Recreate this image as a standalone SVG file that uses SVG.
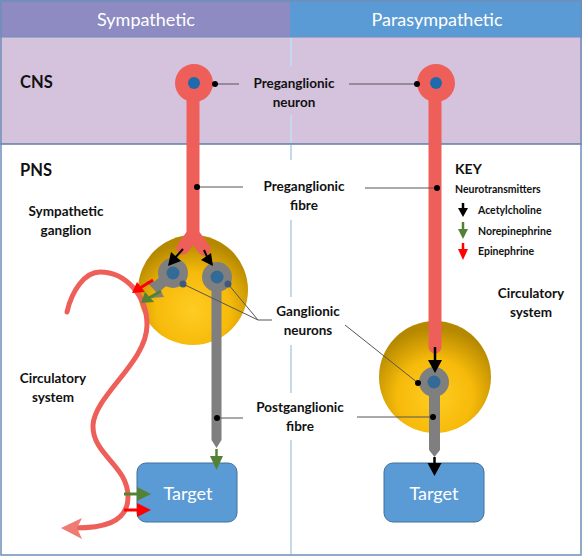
<svg xmlns="http://www.w3.org/2000/svg" width="583" height="557" viewBox="0 0 583 557">
<style>
.lbl{font-family:Lato,"Liberation Sans",sans-serif;font-weight:bold;fill:#111;text-anchor:middle}
.s13{font-size:13.5px}
.hdr{font-family:Lato,"Liberation Sans",sans-serif;font-size:18px;fill:#fff;text-anchor:middle}
.big{font-family:Lato,"Liberation Sans",sans-serif;font-weight:bold;font-size:16.5px;fill:#111}
.key{font-family:Lato,"Liberation Sans",sans-serif;font-weight:bold;font-size:10.5px;fill:#111}
.tgt{font-family:Lato,"Liberation Sans",sans-serif;font-size:18px;fill:#fff;text-anchor:middle}
.lead{stroke:#555;stroke-width:1;fill:none}
.div{stroke:#C5D8EC;stroke-width:2}
.box{fill:#5B9BD5;stroke:#41719C;stroke-width:1}
.red{stroke:#EF5F5A;fill:none;stroke-linecap:round;stroke-linejoin:round}
.gray{stroke:#7F7F80;fill:none}
</style>
<defs>
<radialGradient id="gang" cx="0.5" cy="0.68" r="0.62">
<stop offset="0" stop-color="#FFCC22"/>
<stop offset="0.55" stop-color="#F6BA0A"/>
<stop offset="1" stop-color="#B58800"/>
</radialGradient>
</defs>

<g id="frame">
<rect x="0" y="0" width="290" height="37" fill="#8E8BC3"/>
<rect x="290" y="0" width="292" height="37" fill="#5B9BD5"/>
<rect x="0" y="37" width="582" height="107" fill="#D5C2DD"/>
<rect x="0" y="144" width="582" height="411" fill="#fff"/>
<line x1="0" y1="37" x2="582" y2="37" stroke="#6E8FB8" stroke-width="1.2"/>
<line x1="0" y1="144" x2="582" y2="144" stroke="#5E7FA8" stroke-width="1.5"/>
<rect x="1" y="1" width="580" height="554" fill="none" stroke="#6E8FB8" stroke-width="1.5"/>
<line class="div" x1="291" y1="38" x2="291" y2="66"/>
<line class="div" x1="291" y1="115" x2="291" y2="143"/>
<line class="div" x1="291" y1="145" x2="291" y2="160"/>
<line class="div" x1="291" y1="220" x2="291" y2="297"/>
<line class="div" x1="291" y1="345" x2="291" y2="393"/>
<line class="div" x1="291" y1="440" x2="291" y2="554"/>
<text class="hdr" x="146" y="26">Sympathetic</text>
<text class="hdr" x="437" y="26">Parasympathetic</text>
<text class="big" x="20" y="88">CNS</text>
<text class="big" x="20" y="176">PNS</text>
</g>

<g id="ganglion-symp"><circle cx="193" cy="290" r="55" fill="url(#gang)"/></g>
<g id="ganglion-para"><circle cx="435" cy="377" r="56" fill="url(#gang)"/></g>

<g id="circulatory">
<path class="red" d="M67,312 C72,290 85,272 100,272 C125,272 147,295 147,325 C147,362 95,395 93,425 C92,455 128,465 128,497 C128,524 100,528 74,528" stroke="#F07B72" stroke-width="5"/>
<polygon points="61,528 82,518 77,528 82,539" fill="#F07B72"/>
</g>

<g id="pre-symp">
<path class="red" d="M193,90 V234 M193,234 L183,248 M193,234 L204,249" stroke-width="13"/>
<circle cx="194" cy="83" r="19" fill="#EF5F5A"/>
<circle cx="194" cy="83" r="6" fill="#1F6AAD"/>
</g>

<g id="pre-para">
<path class="red" d="M435,90 V347" stroke-width="13"/>
<circle cx="436" cy="83" r="19" fill="#EF5F5A"/>
<circle cx="436" cy="83" r="6" fill="#1F6AAD"/>
</g>

<g id="gang-symp-left">
<line class="gray" x1="172" y1="274" x2="154" y2="289" stroke-width="11"/>
<polygon points="146,281 158,282 156,292" fill="#7F7F80"/>
<polygon points="150,298 160,290 164,297" fill="#7F7F80"/>
<circle cx="173" cy="273" r="15" fill="#7F7F80"/>
<circle cx="173" cy="273" r="6.5" fill="#336A96"/>
<circle cx="183" cy="284" r="3.5" fill="#3B5B82"/>
</g>

<g id="gang-symp-right">
<path d="M211.5,277 V440 L216.5,448 L221.5,440 V277 Z" fill="#7F7F80"/>
<circle cx="217" cy="277" r="15" fill="#7F7F80"/>
<circle cx="217" cy="277" r="6.5" fill="#336A96"/>
<circle cx="228" cy="284" r="3.5" fill="#3B5B82"/>
</g>

<g id="gang-para">
<path d="M429,382 V450 L434.5,457 L440,450 V382 Z" fill="#7F7F80"/>
<circle cx="434" cy="382" r="15" fill="#7F7F80"/>
<circle cx="434" cy="382" r="6.5" fill="#336A96"/>
</g>

<g id="target-symp">
<rect class="box" x="137" y="463" width="100" height="59" rx="9"/>
<text class="tgt" x="188" y="500">Target</text>
</g>
<g id="target-para">
<rect class="box" x="384" y="463" width="100" height="59" rx="9"/>
<text class="tgt" x="434" y="500">Target</text>
</g>

<g id="connectors">
<line x1="183" y1="249" x2="174" y2="259" stroke="#000" stroke-width="2"/>
<polygon points="168,266 171,252 181,261" fill="#000"/>
<line x1="204" y1="250" x2="208" y2="259" stroke="#000" stroke-width="2"/>
<polygon points="213,266 201,260 211,253" fill="#000"/>
<line x1="153" y1="280" x2="140" y2="288" stroke="#FF0000" stroke-width="3"/>
<polygon points="132,293 137,282 145,292" fill="#FF0000"/>
<line x1="161" y1="291" x2="149" y2="298" stroke="#548235" stroke-width="3"/>
<polygon points="141,303 145,292 154,302" fill="#548235"/>
<line x1="216.5" y1="449" x2="216.5" y2="458" stroke="#548235" stroke-width="2.5"/>
<polygon points="210,456 223,456 216.5,470" fill="#548235"/>
<line x1="435" y1="347" x2="435" y2="362" stroke="#000" stroke-width="2.5"/>
<polygon points="428,360 442,360 435,373" fill="#000"/>
<line x1="434.5" y1="457" x2="434.5" y2="465" stroke="#000" stroke-width="2.5"/>
<polygon points="427.5,463 441.5,463 434.5,476" fill="#000"/>
<line x1="124" y1="494" x2="139" y2="494" stroke="#548235" stroke-width="3"/>
<polygon points="137,487 151,494 137,501" fill="#548235"/>
<line x1="124" y1="510" x2="139" y2="510" stroke="#FF0000" stroke-width="3"/>
<polygon points="137,503 151,510 137,517" fill="#FF0000"/>
<line class="lead" x1="215" y1="84" x2="239" y2="84"/>
<line class="lead" x1="349" y1="84" x2="417" y2="84"/>
<circle cx="215" cy="84" r="3" fill="#000"/>
<circle cx="417" cy="84" r="3" fill="#000"/>
<line class="lead" x1="197" y1="187" x2="243" y2="187"/>
<line class="lead" x1="365" y1="188" x2="437" y2="188"/>
<circle cx="197" cy="187" r="3" fill="#000"/>
<circle cx="437" cy="188" r="3" fill="#000"/>
<polyline class="lead" points="183,284 258,320 272,320"/>
<line class="lead" x1="228" y1="284" x2="258" y2="320"/>
<line class="lead" x1="345" y1="325" x2="418" y2="383"/>
<circle cx="418" cy="383" r="3" fill="#000"/>
<line class="lead" x1="217" y1="418" x2="243" y2="418"/>
<line class="lead" x1="357" y1="417" x2="433" y2="417"/>
<circle cx="217" cy="418" r="3" fill="#000"/>
<circle cx="433" cy="417" r="3" fill="#000"/>
</g>

<g id="labels">
<text class="lbl s13" x="294" y="88">Preganglionic</text>
<text class="lbl s13" x="294" y="107">neuron</text>
<text class="lbl s13" x="304" y="191">Preganglionic</text>
<text class="lbl s13" x="304" y="210">fibre</text>
<text class="lbl s13" x="66" y="216">Sympathetic</text>
<text class="lbl s13" x="66" y="235">ganglion</text>
<text class="lbl s13" x="308" y="316">Ganglionic</text>
<text class="lbl s13" x="308" y="335">neurons</text>
<text class="lbl s13" x="53" y="383">Circulatory</text>
<text class="lbl s13" x="53" y="402">system</text>
<text class="lbl s13" x="300" y="412">Postganglionic</text>
<text class="lbl s13" x="300" y="431">fibre</text>
<text class="lbl s13" x="531" y="298">Circulatory</text>
<text class="lbl s13" x="531" y="317">system</text>
</g>

<g id="key">
<text class="key" x="455" y="174" style="font-size:14px">KEY</text>
<text class="key" x="455" y="193">Neurotransmitters</text>
<line x1="463" y1="203" x2="463" y2="210" stroke="#000" stroke-width="2.5"/>
<polygon points="458,208 468,208 463,217" fill="#000"/>
<text class="key" x="478" y="214">Acetylcholine</text>
<line x1="463" y1="222" x2="463" y2="231" stroke="#548235" stroke-width="2.5"/>
<polygon points="458,229 468,229 463,239" fill="#548235"/>
<text class="key" x="478" y="235">Norepinephrine</text>
<line x1="463" y1="243" x2="463" y2="251" stroke="#FF0000" stroke-width="2.5"/>
<polygon points="458,249 468,249 463,260" fill="#FF0000"/>
<text class="key" x="478" y="255">Epinephrine</text>
</g>
</svg>
